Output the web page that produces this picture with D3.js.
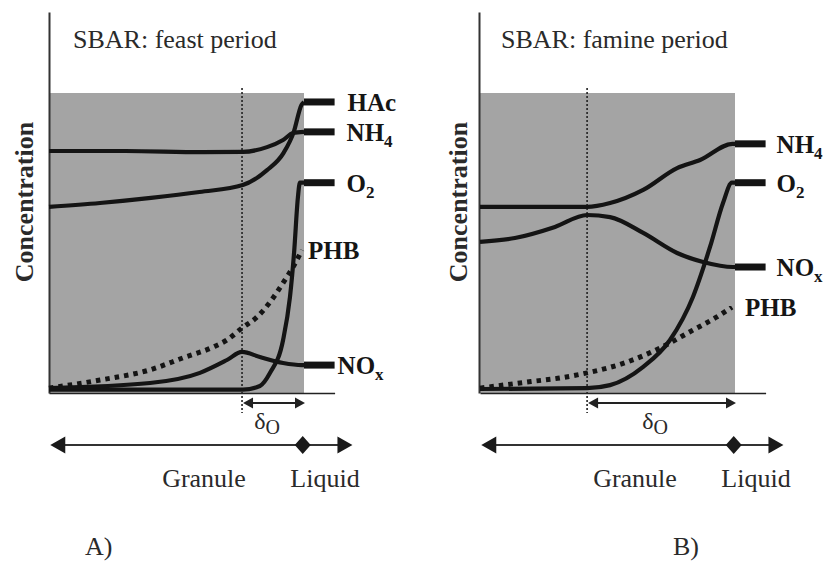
<!DOCTYPE html>
<html>
<head>
<meta charset="utf-8">
<script src="https://cdn.jsdelivr.net/npm/d3@7"></script>
<style>
  body { margin: 0; background: #fff; }
  svg text { font-family: "Liberation Serif", "Times New Roman", Times, "DejaVu Serif", serif; }
</style>
</head>
<body>
<script>
// x = position in granule (0 = inner, 100 = granule surface), y = relative concentration (0..100)
const feastHAc = [[0,61.9],[20,63.2],[40,64.9],[59,66.9],[76,69.2],[85.5,74.2],[92,80],[96,87],[99,96],[100,97]];
const feastNH4 = [[0,80.6],[30,80.6],[60,80.2],[76,80.3],[85.5,81.9],[91.8,84.3],[95.7,86.6],[100,87]];
const feastO2  = [[0,0.8],[40,0.8],[76,0.8],[82.7,2],[86.7,6.4],[91.8,17.4],[94.5,31.8],[96.1,46.5],[97.6,65],[98.4,70],[100,70]];
const feastPHB = [[0,1.3],[20,4],[39.6,7.4],[52.5,11.4],[64.3,15],[69.8,17.4],[75.7,21.4],[81.6,25.1],[86.7,30.1],[91.8,36.5],[95.7,41.8],[99.2,47.5]];
const feastNOx = [[0,1.3],[39.6,3],[59.2,6.4],[69.8,10.7],[75.7,13.4],[82.7,11.7],[91.8,9.7],[99.2,9],[100,9]];
const feastFront = 75.7;

const famineNH4 = [[0,61.9],[42,61.9],[51,63.2],[64,67.6],[77.3,74.9],[86.3,77.6],[99,83],[100,83]];
const famineO2  = [[0,1],[42,1.3],[51,2.3],[64,8.4],[74.5,17.4],[83.5,31.8],[90.2,48.5],[95.3,63.2],[98.8,70],[100,70]];
const famineNOx = [[0,50.2],[13.7,51.5],[29.4,55.2],[42,59.2],[51,58.5],[64,53.2],[77.3,46.5],[87.5,43.5],[99.2,41.8],[100,41.8]];
const faminePHB = [[0,1.3],[20,3.5],[31.4,4.7],[42,6.4],[57.6,10],[70.6,14.7],[83.5,20.7],[92.9,25.1],[98.8,28.4]];
const famineFront = 42;

const titles = ["SBAR: feast period", "SBAR: famine period"];
const tags = ["A)", "B)"];

const svg = d3.select("body").append("svg")
  .attr("width", 830)
  .attr("height", 562)
  .attr("font-family", "'Liberation Serif', 'Times New Roman', Times, 'DejaVu Serif', serif");

const y = d3.scaleLinear().domain([0, 100]).range([392, 93]);

const panels = [
  { left: 49, axis: 49, right: 304, title: titles[0], tag: tags[0], front: feastFront,
    titleX: 73, conc: 33, tagX: 85,
    curves: [
      { name: "HAc", sub: "", data: feastHAc, dx: 13 },
      { name: "NH", sub: "4", data: feastNH4, dx: 12 },
      { name: "O", sub: "2", data: feastO2, dx: 12 },
      { name: "PHB", sub: "", data: feastPHB, dotted: true, dx: 6 },
      { name: "NO", sub: "x", data: feastNOx, dx: 3 }
    ] },
  { left: 480, axis: 479, right: 735, title: titles[1], tag: tags[1], front: famineFront,
    titleX: 501, conc: 467, tagX: 673,
    curves: [
      { name: "NH", sub: "4", data: famineNH4, dx: 11 },
      { name: "O", sub: "2", data: famineO2, dx: 11 },
      { name: "NO", sub: "x", data: famineNOx, dx: 11 },
      { name: "PHB", sub: "", data: faminePHB, dotted: true, dx: 13 }
    ] }
];

panels.forEach(p => ShowPanel(p));

function ShowPanel(p) {
  const x = d3.scaleLinear().domain([0, 100]).range([p.left, p.right]);
  const g = svg.append("g");

  // shaded granule
  g.append("rect")
    .attr("x", x(0))
    .attr("y", y(100))
    .attr("width", x(100) - x(0))
    .attr("height", y(0) + 1 - y(100))
    .style("fill", "#a4a4a4");

  // axes (no ticks)
  const yTall = d3.scaleLinear().domain([0, 127]).range([393, 12]);
  g.append("g")
    .attr("transform", "translate(" + p.axis + ",0)")
    .call(d3.axisLeft(yTall).tickValues([]).tickSizeOuter(0))
    .select(".domain").style("stroke", "#333").style("stroke-width", 2);
  const xLong = d3.scaleLinear().domain([0, 112]).range([x(0), x(112)]);
  g.append("g")
    .attr("transform", "translate(0,393)")
    .call(d3.axisBottom(xLong).tickValues([]).tickSizeOuter(0))
    .select(".domain").style("stroke", "#222").style("stroke-width", 1.6);

  // penetration front
  g.append("line")
    .attr("x1", x(p.front)).attr("x2", x(p.front))
    .attr("y1", 88).attr("y2", 413)
    .style("stroke", "#222")
    .style("stroke-width", 1.6)
    .style("stroke-dasharray", "2,2");

  const line = d3.line()
    .x(d => x(d[0]))
    .y(d => y(d[1]))
    .curve(d3.curveMonotoneX);

  p.curves.forEach(c => {
    g.append("path")
      .attr("d", line(c.data))
      .style("fill", "none")
      .style("stroke", "#141414")
      .style("stroke-width", c.dotted ? 5 : 4.2)
      .style("stroke-dasharray", c.dotted ? "4.5,5" : null);

    const last = c.data[c.data.length - 1];
    let lx = x(last[0]) + c.dx;
    if (!c.dotted) {
      g.append("line")
        .attr("x1", x(100)).attr("x2", x(112))
        .attr("y1", y(last[1])).attr("y2", y(last[1]))
        .style("stroke", "#141414")
        .style("stroke-width", 7);
      lx = x(112) + c.dx;
    }
    const t = g.append("text")
      .attr("x", lx)
      .attr("y", y(last[1]) + 9)
      .style("font-size", "25px")
      .style("font-weight", "bold")
      .style("fill", "#151515")
      .text(c.name);
    if (c.sub) {
      t.append("tspan")
        .attr("dy", 6)
        .style("font-size", "17px")
        .text(c.sub);
    }
  });

  // title
  g.append("text")
    .attr("x", p.titleX)
    .attr("y", 48)
    .style("font-size", "26px")
    .style("fill", "#2a2a2a")
    .text(p.title);

  // y label
  g.append("text")
    .attr("transform", "translate(" + p.conc + ",202) rotate(-90)")
    .attr("text-anchor", "middle")
    .style("font-size", "26px")
    .style("font-weight", "bold")
    .style("fill", "#2a2a2a")
    .text("Concentration");

  // delta_O arrow
  const ay = 403;
  const x1 = x(p.front) + 1, x2 = x(100) + 1;
  g.append("line")
    .attr("x1", x1 + 6).attr("x2", x2 - 6)
    .attr("y1", ay).attr("y2", ay)
    .style("stroke", "#222").style("stroke-width", 2);
  g.append("path")
    .attr("d", `M${x1},${ay}l10,-5.5v11z M${x2},${ay}l-10,-5.5v11z`)
    .style("fill", "#222");
  const dt = g.append("text")
    .attr("x", (x1 + x2) / 2 - 7)
    .attr("y", 429)
    .attr("text-anchor", "middle")
    .style("font-size", "24px")
    .style("fill", "#2a2a2a")
    .text("\u03b4");
  dt.append("tspan").attr("dy", 5).style("font-size", "20px").text("O");

  // granule / liquid axis
  const by = 445;
  const xa = x(0.5), xb = x(119), xd = x(99.5);
  g.append("line")
    .attr("x1", xa + 8).attr("x2", xb - 8)
    .attr("y1", by).attr("y2", by)
    .style("stroke", "#333").style("stroke-width", 2);
  g.append("path")
    .attr("d", `M${xa},${by}l15,-8.5v17z M${xb},${by}l-15,-8.5v17z M${xd - 8},${by}l8,-9l8,9l-8,9z`)
    .style("fill", "#1a1a1a");

  g.append("text")
    .attr("x", x(100) - 100)
    .attr("y", 487)
    .attr("text-anchor", "middle")
    .style("font-size", "26px")
    .style("fill", "#2a2a2a")
    .text("Granule");
  g.append("text")
    .attr("x", x(100) + 21)
    .attr("y", 487)
    .attr("text-anchor", "middle")
    .style("font-size", "26px")
    .style("fill", "#2a2a2a")
    .text("Liquid");

  g.append("text")
    .attr("x", p.tagX)
    .attr("y", 555)
    .style("font-size", "26px")
    .style("fill", "#2a2a2a")
    .text(p.tag);
}
</script>
</body>
</html>
